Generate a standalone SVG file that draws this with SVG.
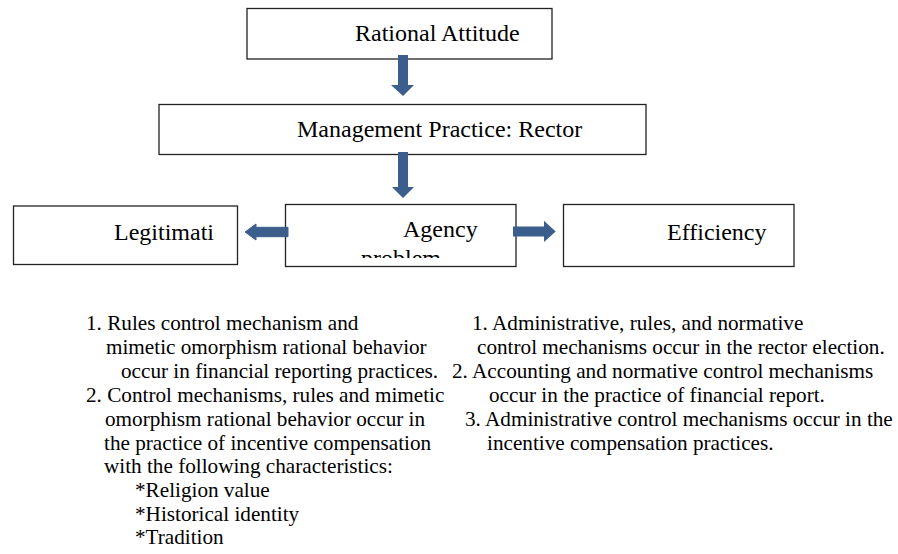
<svg xmlns="http://www.w3.org/2000/svg" width="898" height="554" viewBox="0 0 898 554">
<style>
.box{fill:#fff;stroke:#222;stroke-width:1.3}
.t{font-family:"Liberation Serif","Times New Roman",serif;fill:#000}
.big{font-size:24px}
.sm{font-size:21.2px}
.arr{fill:#3B5E8C}
</style>
<defs>
<clipPath id="agclip"><rect x="286" y="205" width="229" height="53"/></clipPath>
</defs>
<g id="rational">
<rect class="box" x="247" y="8.5" width="305" height="50.5"/>
<text class="t big" x="355" y="41">Rational Attitude</text>
</g>
<g id="management">
<rect class="box" x="159" y="104.5" width="487" height="50"/>
<text class="t big" x="297" y="137">Management Practice: Rector</text>
</g>
<g id="legitimation">
<rect class="box" x="13.5" y="206" width="224" height="58.5"/>
<text class="t big" x="114" y="239.5">Legitimati</text>
</g>
<g id="agency">
<rect class="box" x="285.5" y="204.5" width="230.5" height="62"/>
<g clip-path="url(#agclip)">
<text class="t big" x="403" y="237">Agency</text>
<text class="t big" x="361" y="265.5">problem</text>
</g>
</g>
<g id="efficiency">
<rect class="box" x="563.5" y="204.5" width="230.5" height="62"/>
<text class="t big" x="667" y="240">Efficiency</text>
</g>
<g id="connectors">
<polygon class="arr" points="398,55 408,55 408,85 414,85 403,96 391,85 398,85"/>
<polygon class="arr" points="398,152 408,152 408,187 414,187 403,198 392,187 398,187"/>
<path class="arr" d="M288,227.3 L256,227.3 L256,224 L245,232 L256,240 L256,236.7 L288,236.7 Z" stroke="#3B5E8C" stroke-width="1" stroke-linejoin="round"/>
<polygon class="arr" points="513,226.5 544,226.5 544,220.7 555.7,231.5 544,242 544,236.5 513,236.5"/>
</g>
<g id="left-notes" class="t sm">
<text x="86" y="330">1. Rules control mechanism and</text>
<text x="106" y="354">mimetic omorphism rational behavior</text>
<text x="121" y="378">occur in financial reporting practices.</text>
<text x="86" y="402">2. Control mechanisms, rules and mimetic</text>
<text x="105" y="426">omorphism rational behavior occur in</text>
<text x="104" y="449.5">the practice of incentive compensation</text>
<text x="104" y="473">with the following characteristics:</text>
<text x="135" y="497">*Religion value</text>
<text x="135" y="520.5">*Historical identity</text>
<text x="135" y="544">*Tradition</text>
</g>
<g id="right-notes" class="t sm">
<text x="472" y="330">1. Administrative, rules, and normative</text>
<text x="477" y="354">control mechanisms occur in the rector election.</text>
<text x="452" y="378">2. Accounting and normative control mechanisms</text>
<text x="489" y="402">occur in the practice of financial report.</text>
<text x="465" y="426">3. Administrative control mechanisms occur in the</text>
<text x="487" y="449.5">incentive compensation practices.</text>
</g>
</svg>
